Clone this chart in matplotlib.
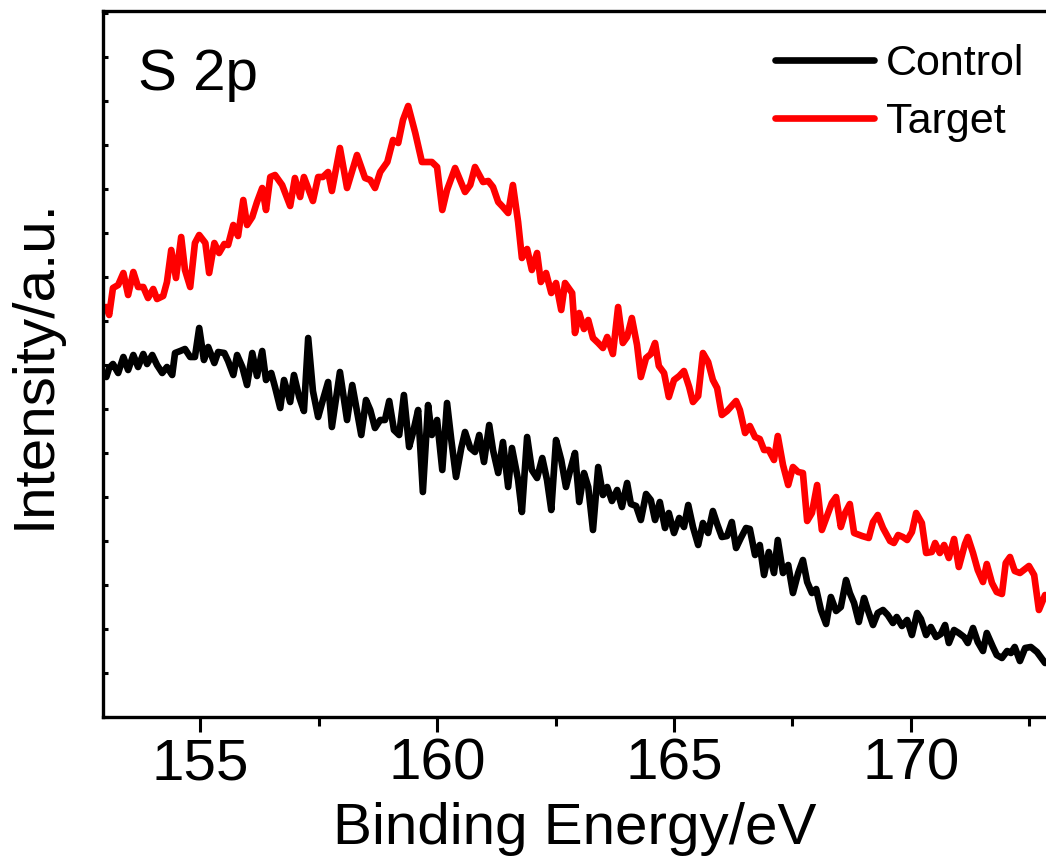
import matplotlib
matplotlib.use('Agg')
import matplotlib.pyplot as plt
from matplotlib.ticker import MultipleLocator

plt.rcParams['font.family'] = ['Liberation Sans', 'DejaVu Sans']

# S 2p XPS spectra, binding energy (eV) vs intensity (a.u.)
control_be = [153.02, 153.08, 153.16, 153.27, 153.38, 153.48, 153.59, 153.69, 153.80, 153.88,
              153.99, 154.09, 154.20, 154.30, 154.41, 154.47, 154.58, 154.68, 154.79, 154.89,
              154.98, 155.08, 155.17, 155.30, 155.38, 155.51, 155.59, 155.70, 155.78, 155.89,
              155.99, 156.10, 156.20, 156.31, 156.39, 156.50, 156.58, 156.69, 156.77, 156.90,
              156.98, 157.09, 157.19, 157.28, 157.38, 157.49, 157.59, 157.70, 157.78, 157.95,
              158.10, 158.21, 158.40, 158.50, 158.59, 158.69, 158.80, 158.90, 158.99, 159.09,
              159.20, 159.30, 159.41, 159.49, 159.60, 159.70, 159.81, 159.89, 160.00, 160.11,
              160.21, 160.30, 160.40, 160.51, 160.59, 160.70, 160.80, 160.89, 160.99, 161.10,
              161.18, 161.29, 161.39, 161.50, 161.58, 161.71, 161.79, 161.90, 162.00, 162.11,
              162.22, 162.32, 162.41, 162.51, 162.62, 162.72, 162.81, 162.91, 163.00, 163.10,
              163.19, 163.29, 163.40, 163.50, 163.59, 163.69, 163.80, 163.90, 164.01, 164.09,
              164.20, 164.30, 164.41, 164.51, 164.60, 164.70, 164.81, 164.89, 165.00, 165.11,
              165.21, 165.30, 165.40, 165.51, 165.61, 165.72, 165.82, 165.91, 166.01, 166.12,
              166.22, 166.31, 166.41, 166.52, 166.60, 166.71, 166.81, 166.90, 167.00, 167.11,
              167.19, 167.30, 167.41, 167.51, 167.62, 167.72, 167.81, 167.91, 168.00, 168.10,
              168.21, 168.31, 168.42, 168.52, 168.63, 168.71, 168.80, 168.90, 169.01, 169.09,
              169.20, 169.30, 169.41, 169.51, 169.62, 169.70, 169.81, 169.92, 170.02, 170.13,
              170.21, 170.32, 170.42, 170.53, 170.63, 170.72, 170.80, 170.91, 171.01, 171.12,
              171.20, 171.31, 171.41, 171.52, 171.60, 171.73, 171.81, 171.92, 172.03, 172.11,
              172.19, 172.30, 172.41, 172.53, 172.66, 172.83]
control_int = [3400, 3490, 3530, 3440, 3600, 3470, 3620, 3500, 3630, 3530,
               3620, 3520, 3440, 3500, 3420, 3640, 3660, 3680, 3600, 3600,
               3890, 3570, 3700, 3540, 3650, 3640, 3560, 3420, 3620, 3500,
               3320, 3640, 3410, 3660, 3370, 3440, 3300, 3090, 3370, 3150,
               3420, 3200, 3060, 3790, 3260, 3000, 3170, 3350, 2900, 3450,
               2970, 3320, 2820, 3170, 3070, 2890, 2970, 2970, 3160, 2870,
               2820, 3220, 2700, 2840, 3070, 2250, 3120, 2820, 2970, 2470,
               3140, 2770, 2400, 2690, 2850, 2690, 2650, 2820, 2550, 2920,
               2670, 2440, 2750, 2300, 2690, 2370, 2050, 2800, 2470, 2390,
               2590, 2370, 2070, 2770, 2570, 2300, 2470, 2640, 2150, 2440,
               2300, 1870, 2500, 2220, 2300, 2160, 2270, 2100, 2340, 2130,
               2110, 1970, 2230, 2170, 1970, 2150, 1890, 2040, 1840, 1990,
               1900, 2120, 1900, 1720, 1940, 1840, 2060, 1930, 1800, 1810,
               1950, 1690, 1790, 1890, 1880, 1620, 1720, 1420, 1650, 1440,
               1770, 1440, 1520, 1240, 1440, 1570, 1350, 1240, 1280, 1070,
               930, 1200, 1060, 1100, 1370, 1240, 1140, 950, 1190, 1070,
               920, 1040, 1070, 1020, 940, 1000, 910, 970, 820, 1040,
               980, 820, 900, 800, 830, 920, 740, 870, 840, 800,
               740, 890, 750, 660, 840, 700, 620, 590, 660, 640,
               700, 560, 690, 700, 650, 540]

target_be = [153.02, 153.08, 153.16, 153.27, 153.38, 153.48, 153.59, 153.69, 153.80, 153.90,
             154.01, 154.09, 154.22, 154.30, 154.39, 154.49, 154.60, 154.68, 154.79, 154.89,
             154.98, 155.11, 155.19, 155.30, 155.40, 155.51, 155.59, 155.70, 155.80, 155.91,
             155.99, 156.10, 156.20, 156.31, 156.39, 156.48, 156.58, 156.73, 156.90, 157.00,
             157.11, 157.19, 157.38, 157.49, 157.59, 157.70, 157.78, 157.95, 158.10, 158.31,
             158.48, 158.59, 158.69, 158.80, 158.95, 159.07, 159.18, 159.28, 159.39, 159.54,
             159.68, 159.89, 160.00, 160.11, 160.21, 160.38, 160.59, 160.70, 160.80, 160.97,
             161.08, 161.18, 161.29, 161.39, 161.50, 161.60, 161.71, 161.79, 161.90, 162.00,
             162.11, 162.19, 162.30, 162.41, 162.51, 162.62, 162.70, 162.85, 162.91, 163.00,
             163.10, 163.19, 163.29, 163.40, 163.50, 163.59, 163.71, 163.82, 163.92, 164.01,
             164.11, 164.22, 164.30, 164.41, 164.51, 164.60, 164.68, 164.79, 164.89, 165.00,
             165.11, 165.21, 165.32, 165.40, 165.51, 165.61, 165.72, 165.82, 165.91, 166.01,
             166.12, 166.31, 166.39, 166.50, 166.60, 166.71, 166.81, 166.90, 167.00, 167.11,
             167.19, 167.30, 167.41, 167.51, 167.62, 167.72, 167.81, 167.91, 168.02, 168.12,
             168.23, 168.33, 168.42, 168.52, 168.61, 168.71, 168.80, 168.97, 169.11, 169.20,
             169.30, 169.41, 169.56, 169.64, 169.73, 169.83, 169.92, 170.02, 170.11, 170.23,
             170.32, 170.44, 170.51, 170.61, 170.70, 170.80, 170.91, 171.01, 171.14, 171.20,
             171.31, 171.41, 171.52, 171.60, 171.71, 171.81, 171.92, 172.00, 172.09, 172.19,
             172.30, 172.49, 172.60, 172.70, 172.83]
target_int = [4100, 4020, 4290, 4320, 4440, 4220, 4450, 4300, 4300, 4190,
              4280, 4180, 4210, 4350, 4670, 4390, 4800, 4470, 4300, 4740,
              4820, 4740, 4440, 4740, 4640, 4730, 4720, 4920, 4810, 5170,
              4920, 5000, 5150, 5290, 5070, 5400, 5420, 5320, 5110, 5390,
              5200, 5400, 5160, 5400, 5400, 5450, 5260, 5690, 5290, 5620,
              5390, 5370, 5290, 5450, 5550, 5770, 5740, 5970, 6110, 5840,
              5550, 5550, 5500, 5070, 5270, 5490, 5250, 5320, 5500, 5350,
              5360, 5300, 5150, 5100, 5040, 5320, 4950, 4590, 4680, 4470,
              4640, 4350, 4440, 4240, 4340, 4070, 4340, 4240, 3840, 4040,
              3880, 3970, 3790, 3740, 3690, 3800, 3630, 4100, 3740, 3800,
              3990, 3720, 3400, 3590, 3630, 3740, 3510, 3440, 3200, 3370,
              3410, 3460, 3300, 3150, 3210, 3640, 3550, 3370, 3290, 3020,
              3060, 3160, 3070, 2840, 2910, 2800, 2780, 2670, 2670, 2570,
              2810, 2520, 2320, 2500, 2450, 2440, 1960, 2040, 2320, 1870,
              2010, 2140, 2200, 1900, 2040, 2130, 1840, 1810, 1790, 1950,
              2020, 1890, 1760, 1740, 1820, 1800, 1770, 1850, 2040, 1940,
              1640, 1650, 1740, 1640, 1720, 1590, 1780, 1500, 1730, 1800,
              1640, 1470, 1350, 1530, 1340, 1250, 1230, 1540, 1600, 1460,
              1440, 1510, 1420, 1070, 1220]

series_names = ['Control', 'Target']
series_colors = ['#000000', '#ff0000']

fig = plt.figure(figsize=(10.46, 8.61), dpi=100)
ax = fig.add_axes([103 / 1046, 1 - 717 / 861, 943 / 1046, 706 / 861])

line_kw = dict(lw=4.8, solid_joinstyle='round', solid_capstyle='round')
ax.plot(control_be, control_int, color=series_colors[0], label=series_names[0], **line_kw)
ax.plot(target_be, target_int, color=series_colors[1], label=series_names[1], **line_kw)

ax.set_xlim(152.95, 172.85)
ax.set_ylim(0, 7060)

ax.xaxis.set_major_locator(MultipleLocator(5))
ax.xaxis.set_minor_locator(MultipleLocator(2.5))
ax.yaxis.set_major_locator(MultipleLocator(440))
ax.set_yticklabels([])
ax.tick_params(axis='x', which='major', direction='out', length=11, width=2.2,
               labelsize=42, pad=3.5)
ax.tick_params(axis='x', which='minor', direction='out', length=6.5, width=2.2)
ax.tick_params(axis='y', which='major', direction='in', length=3.5, width=2.2, left=True)

for side in ['left', 'bottom', 'top']:
    ax.spines[side].set_linewidth(2.4)
ax.spines['right'].set_visible(False)

ax.set_xlabel('Binding Energy/eV', fontsize=42, labelpad=8)
ax.set_ylabel('Intensity/a.u.', fontsize=42, labelpad=26)

fig.text(138 / 1046, 1 - 90 / 861, 'S 2p', fontsize=42, ha='left', va='baseline')

ax.legend(loc='upper left', bbox_to_anchor=(775 / 1046, 1 - 44 / 861),
          bbox_transform=fig.transFigure, frameon=False, fontsize=31,
          handlelength=2.3, handletextpad=0.28, labelspacing=0.42,
          borderpad=0, borderaxespad=0)

fig.savefig('out.png', dpi=100)
